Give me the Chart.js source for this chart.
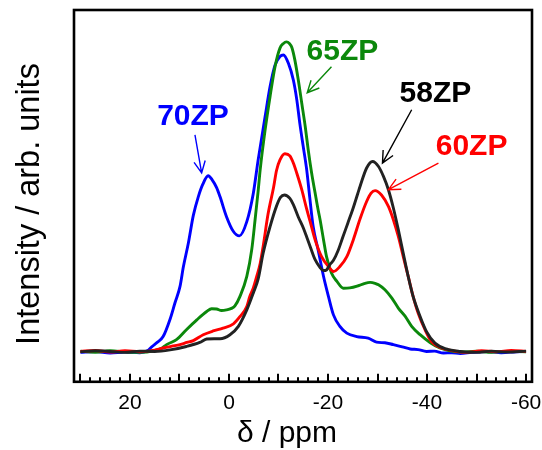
<!DOCTYPE html>
<html>
<head>
<meta charset="utf-8">
<script src="https://cdn.jsdelivr.net/npm/chart.js@4.4.1/dist/chart.umd.min.js"></script>
<style>
  html, body { margin: 0; padding: 0; background: #fff; }
</style>
</head>
<body>
<canvas id="nmr" width="542" height="450"></canvas>
<script>
// Chemical shift (ppm) and intensity (arb. units) for each glass composition
const shift70 = [30, 27, 24, 21, 18, 16.5, 15.6, 14.5, 13.3, 11.9, 10.9, 9.9, 9.2, 8.2, 7.2, 6.2, 5.3, 4.2, 3.4, 2.5, 1.8, 0.5, -0.9, -2.1, -3.6, -4.9, -5.9, -7.3, -8.3, -9.3, -10.3, -11.0, -12.0, -13.0, -13.7, -14.3, -15.0, -15.7, -16.3, -17.0, -18.0, -19.1, -20.1, -21.1, -22.4, -23.8, -25.8, -28.1, -29.8, -31.5, -33.2, -35, -36.6, -38.2, -39.9, -41.5, -43.3, -45, -46.7, -49, -52, -55, -58, -60];
const int70   = [-0.2, 0.1, -0.4, -0.1, -0.3, 0.3, 1.6, 3.0, 4.9, 10.5, 15.8, 21, 27.5, 35.1, 44, 50, 54, 56.8, 55.5, 53, 50, 43.6, 38.8, 37.4, 42, 51, 62, 75.9, 85.6, 92.5, 95.3, 95.8, 93.1, 87.7, 81.3, 73.8, 66.2, 58.7, 50, 40.4, 32.9, 24.3, 17.8, 11.9, 8.2, 6.0, 4.9, 4.4, 3.1, 2.9, 2.3, 1.6, 0.9, 0.7, 0.1, 0.2, -0.4, -0.3, -0.6, -0.2, 0.1, -0.3, 0.0, 0.1];

const shift65 = [30, 27, 24, 21, 18, 15, 13.5, 12.6, 10.6, 8.6, 6.5, 4.5, 3.5, 2.5, 1.5, 0.5, -0.5, -1.2, -2.2, -3.6, -4.6, -5.3, -5.9, -6.3, -7.3, -8.3, -9.3, -10.3, -11.0, -11.6, -12.2, -12.7, -13.3, -14.0, -14.7, -15.4, -16.0, -16.7, -17.4, -18.0, -18.4, -19.1, -19.7, -20.7, -21.8, -23.1, -24.4, -26.1, -27.3, -28.5, -29.5, -30.2, -31.5, -32.9, -34.2, -35.6, -36.9, -38.6, -40.6, -42.6, -44.6, -47, -50, -53, -56, -60];
const int65   = [0.2, -0.2, 0.3, 0.0, -0.2, 0.4, 1.2, 2.3, 3.9, 7.1, 10.3, 13, 13.9, 13.8, 13.3, 13.5, 14.0, 14.8, 17.8, 24.3, 33, 43, 52, 58.7, 71.6, 82.4, 92, 98, 99.5, 100, 99.5, 98.2, 94.2, 87.7, 80.2, 72.7, 65.2, 57.6, 51.2, 45.8, 42.6, 36.1, 30.7, 25.4, 22.7, 20.5, 20.6, 21.3, 22.0, 22.4, 22.1, 21.6, 20, 17.3, 14.1, 11.4, 8.2, 5.5, 3.0, 1.2, 0.3, -0.1, 0.2, -0.2, 0.1, 0.0];

const shift60 = [30, 27, 24, 21, 18, 15, 13.3, 11.5, 9.9, 8.5, 7.2, 5.2, 3.2, 1.2, -0.9, -2.2, -3.6, -4.2, -4.9, -5.6, -6.3, -6.9, -7.9, -9.0, -9.6, -10.3, -11.3, -12.3, -13.0, -13.7, -14.7, -15.7, -16.4, -17.4, -18.7, -20.1, -21.1, -22.4, -23.8, -25.1, -26.5, -27.8, -28.7, -29.5, -30.8, -32.2, -33.2, -34.2, -35.2, -36.2, -37.2, -38.2, -39.6, -40.9, -42.9, -45.3, -48, -51, -54, -57, -60];
const int60   = [0.1, 0.4, -0.1, 0.3, 0.0, 0.5, 1.2, 1.8, 2.3, 3.0, 3.6, 5.5, 6.7, 7.6, 9, 11.3, 14.6, 17.8, 20.5, 24.3, 28.5, 34, 44.5, 53, 58.5, 61.9, 63.9, 63.2, 60.9, 57.6, 52.3, 46, 42.0, 36.1, 30.7, 27.5, 25.9, 27.5, 30.7, 36.1, 43, 48.5, 51.2, 52, 50.6, 46.9, 42.6, 37.2, 30.7, 24.3, 17.8, 12.5, 7.1, 3.3, 1.2, 0.3, -0.2, 0.3, 0.0, 0.4, 0.1];

const shift58 = [30, 27, 24, 21, 18, 15, 11.9, 8.6, 5.9, 4.5, 3, 1.8, -0.2, -1.9, -3.6, -4.9, -5.9, -6.9, -8.3, -9.6, -10.4, -11.2, -12.3, -13.0, -14.0, -15.0, -15.7, -16.5, -17.4, -18.4, -19.1, -19.7, -20.4, -21.1, -22.0, -23.0, -24.0, -25.0, -26.0, -26.5, -27.8, -29.0, -30.2, -31.2, -32.2, -33.2, -34.2, -35.2, -36.2, -37.2, -38.6, -39.9, -41.6, -43.9, -46.7, -50, -53, -56, -60];
const int58   = [0.0, 0.3, 0.1, -0.2, 0.2, 0.1, 0.6, 1.7, 3.0, 4.1, 4.2, 4.2, 5.5, 8.2, 13.5, 18.9, 23.5, 31.8, 40.4, 47, 49.8, 50.6, 49.5, 47.5, 43.5, 40, 37, 33.5, 29.7, 27.2, 26.2, 26.4, 28.2, 29.5, 32.5, 37, 41.5, 46, 51, 53.5, 59.3, 61.4, 59.8, 56.6, 52.3, 46.4, 39.4, 31.8, 24.3, 17.8, 11.4, 6.5, 2.8, 0.9, 0.1, -0.2, 0.2, -0.1, 0.2];

// Labelled x-axis values
const tickValues = [20, 0, -20, -40, -60];

const FONT = "'Liberation Sans', Arial, Helvetica, sans-serif";

function toPoints(xs, ys) {
  return xs.map((x, i) => ({ x: x, y: ys[i] }));
}

// Series labels with arrows, placed in data coordinates
const callouts = [
  { text: '70ZP', color: '#0000ff', at: [7.27, 73.2],  from: [6.87, 70.0],  to: [5.52, 57.7] },
  { text: '65ZP', color: '#0b880b', at: [-22.9, 94.2], from: [-20.7, 92.0], to: [-15.8, 83.6] },
  { text: '58ZP', color: '#000000', at: [-41.7, 80.6], from: [-36.9, 78.1], to: [-31.0, 60.9] },
  { text: '60ZP', color: '#ff0000', at: [-49.0, 63.5], from: [-42.3, 60.9], to: [-32.2, 52.3] }
];

const decorations = {
  id: 'decorations',
  afterDraw(chart) {
    const ctx = chart.ctx;
    const a = chart.chartArea;
    const xs = chart.scales.x;
    const ys = chart.scales.y;

    ctx.save();
    // inward tick marks on the bottom axis: minor every 2 ppm, major every 10 ppm
    ctx.strokeStyle = '#000';
    ctx.lineWidth = 2;
    for (let v = -60; v <= 30; v += 2) {
      const px = Math.round(xs.getPixelForValue(v));
      const len = (v % 10 === 0) ? 8 : 4.5;
      ctx.beginPath();
      ctx.moveTo(px, a.bottom);
      ctx.lineTo(px, a.bottom - len);
      ctx.stroke();
    }

    // plot frame
    ctx.lineWidth = 2.6;
    ctx.strokeRect(a.left, a.top, a.right - a.left, a.bottom - a.top);

    // series callouts
    callouts.forEach(c => {
      const x1 = xs.getPixelForValue(c.from[0]), y1 = ys.getPixelForValue(c.from[1]);
      const x2 = xs.getPixelForValue(c.to[0]),   y2 = ys.getPixelForValue(c.to[1]);
      ctx.strokeStyle = c.color;
      ctx.lineWidth = 1.4;
      ctx.beginPath();
      ctx.moveTo(x1, y1);
      ctx.lineTo(x2, y2);
      const ang = Math.atan2(y2 - y1, x2 - x1);
      const head = 13, spread = 0.45;
      ctx.moveTo(x2 - head * Math.cos(ang - spread), y2 - head * Math.sin(ang - spread));
      ctx.lineTo(x2, y2);
      ctx.lineTo(x2 - head * Math.cos(ang + spread), y2 - head * Math.sin(ang + spread));
      ctx.stroke();

      ctx.fillStyle = c.color;
      ctx.font = 'bold 30px ' + FONT;
      ctx.textAlign = 'center';
      ctx.textBaseline = 'alphabetic';
      ctx.fillText(c.text, xs.getPixelForValue(c.at[0]), ys.getPixelForValue(c.at[1]));
    });

    // axis titles
    ctx.fillStyle = '#000';
    ctx.font = '30px ' + FONT;
    ctx.textAlign = 'center';
    ctx.textBaseline = 'alphabetic';
    ctx.fillText('\u03b4 / ppm', 287, 442);

    ctx.translate(39, 204);
    ctx.rotate(-Math.PI / 2);
    ctx.font = '32.5px ' + FONT;
    ctx.fillText('Intensity / arb. units', 0, 0);
    ctx.restore();
  }
};

const lineStyle = {
  borderWidth: 2.9,
  pointRadius: 0,
  fill: false,
  cubicInterpolationMode: 'monotone'
};

new Chart(document.getElementById('nmr'), {
  type: 'line',
  data: {
    datasets: [
      Object.assign({ label: '58ZP', data: toPoints(shift58, int58), borderColor: '#222222' }, lineStyle),
      Object.assign({ label: '60ZP', data: toPoints(shift60, int60), borderColor: '#ff0000' }, lineStyle),
      Object.assign({ label: '65ZP', data: toPoints(shift65, int65), borderColor: '#0b880b' }, lineStyle),
      Object.assign({ label: '70ZP', data: toPoints(shift70, int70), borderColor: '#0000ff' }, lineStyle)
    ]
  },
  options: {
    responsive: false,
    animation: false,
    devicePixelRatio: 1,
    layout: { padding: { left: 74, right: 10, top: 10, bottom: 25 } },
    plugins: {
      legend: { display: false },
      tooltip: { enabled: false }
    },
    scales: {
      x: {
        type: 'linear',
        min: -61.2,
        max: 31.3,
        reverse: true,
        grid: { display: false, drawTicks: false },
        border: { display: false },
        ticks: {
          color: '#000',
          padding: 9,
          maxRotation: 0,
          font: { family: FONT, size: 21 }
        },
        afterBuildTicks: s => { s.ticks = tickValues.map(v => ({ value: v })); },
        afterFit: s => { s.paddingLeft = 0; s.paddingRight = 0; }
      },
      y: {
        display: false,
        min: -9.7,
        max: 110.3
      }
    }
  },
  plugins: [decorations]
});
</script>
</body>
</html>
